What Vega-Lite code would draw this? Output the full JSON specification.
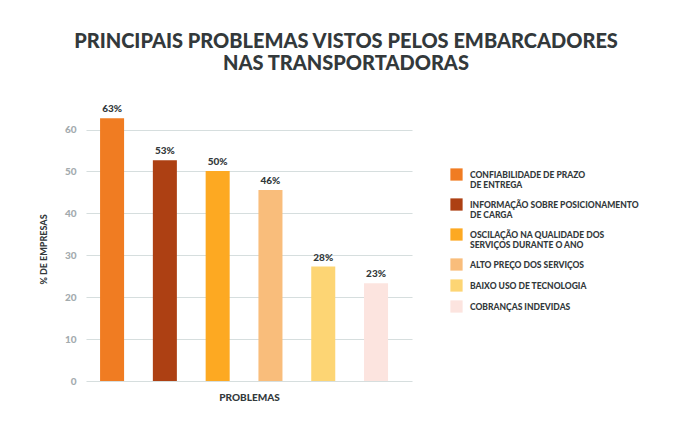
{
  "$schema": "https://vega.github.io/schema/vega-lite/v6.json",
  "autosize": {"type": "none"},
  "width": 326,
  "height": 264,
  "padding": {"left": 86, "top": 117, "right": 280, "bottom": 51},
  "background": "#ffffff",
  "config": {"view": {"stroke": null}},
  "title": {
    "text": ["PRINCIPAIS PROBLEMAS VISTOS PELOS EMBARCADORES", "NAS TRANSPORTADORAS"],
    "anchor": "middle",
    "frame": "group",
    "dx": 97,
    "fontSize": 20,
    "fontWeight": 900,
    "font": "Lato",
    "color": "#33393b",
    "lineHeight": 22,
    "offset": 30
  },
  "data": {
    "values": [
      {"problema": "CONFIABILIDADE DE PRAZO|DE ENTREGA", "valor": 62.7, "rotulo": "63%", "ordem": 1},
      {"problema": "INFORMAÇÃO SOBRE POSICIONAMENTO|DE CARGA", "valor": 52.7, "rotulo": "53%", "ordem": 2},
      {"problema": "OSCILAÇÃO NA QUALIDADE DOS|SERVIÇOS DURANTE O ANO", "valor": 50.1, "rotulo": "50%", "ordem": 3},
      {"problema": "ALTO PREÇO DOS SERVIÇOS", "valor": 45.6, "rotulo": "46%", "ordem": 4},
      {"problema": "BAIXO USO DE TECNOLOGIA", "valor": 27.3, "rotulo": "28%", "ordem": 5},
      {"problema": "COBRANÇAS INDEVIDAS", "valor": 23.3, "rotulo": "23%", "ordem": 6}
    ]
  },
  "encoding": {
    "x": {
      "field": "problema",
      "type": "nominal",
      "sort": {"field": "ordem"},
      "scale": {"paddingInner": 0.545, "paddingOuter": 0.36, "align": 0.37},
      "axis": {
        "labels": false,
        "ticks": false,
        "domain": false,
        "title": "PROBLEMAS",
        "titleFont": "Lato",
        "titleFontWeight": 900,
        "titleFontSize": 10,
        "titleColor": "#33393b",
        "titlePadding": 11
      }
    },
    "y": {
      "field": "valor",
      "type": "quantitative",
      "scale": {"domain": [0, 63], "nice": false},
      "axis": {
        "values": [0, 10, 20, 30, 40, 50, 60],
        "title": "% DE EMPRESAS",
        "titleFont": "Lato",
        "titleFontWeight": 900,
        "titleFontSize": 9,
        "titleColor": "#33393b",
        "titlePadding": 16,
        "labelFont": "Lato",
        "labelFontWeight": 900,
        "labelFontSize": 10,
        "labelColor": "#a3abae",
        "labelPadding": 10,
        "ticks": false,
        "domain": false,
        "gridColor": "#d6dede",
        "gridWidth": 1.2
      }
    }
  },
  "layer": [
    {
      "mark": {"type": "bar"},
      "encoding": {
        "color": {
          "field": "problema",
          "type": "nominal",
          "sort": {"field": "ordem"},
          "scale": {"range": ["#f07c22", "#ad4013", "#fda922", "#f9bd7b", "#fdd574", "#fce4df"]},
          "legend": {
            "title": null,
            "orient": "none",
            "legendX": 364,
            "legendY": 51,
            "symbolType": "square",
            "symbolSize": 150,
            "symbolStrokeWidth": 0,
            "labelExpr": "split(datum.label, '|')",
            "labelFont": "Lato",
            "labelFontWeight": 900,
            "labelFontSize": 8.5,
            "labelColor": "#33393b",
            "labelOffset": 7,
            "labelLimit": 300,
            "rowPadding": 8
          }
        }
      }
    },
    {
      "mark": {"type": "text", "baseline": "bottom", "dy": -4, "font": "Lato", "fontWeight": 900, "fontSize": 10, "color": "#33393b"},
      "encoding": {"text": {"field": "rotulo"}}
    }
  ]
}
